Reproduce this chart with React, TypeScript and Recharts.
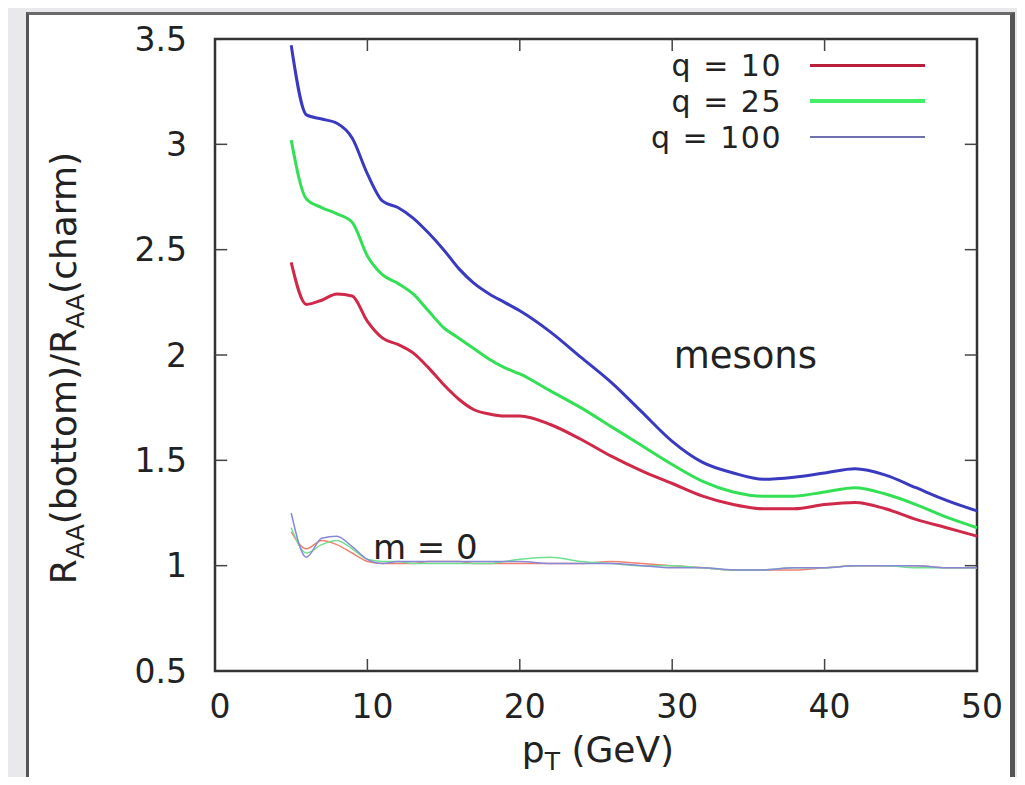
import React from 'react';
import {
  LineChart, Line, XAxis, YAxis, ReferenceArea, ReferenceLine, ReferenceDot, Legend,
} from 'recharts';

// pT grid (GeV) the curves were read on
const pT = [5, 6, 7, 8, 9, 10, 11, 12, 13, 14, 15, 16, 17, 18, 19, 20, 22, 24, 26, 28, 30, 32, 34, 36, 38, 40, 42, 44, 46, 48, 50];

// mesons, massive quarks
const q10 = [2.44, 2.24, 2.26, 2.29, 2.28, 2.16, 2.08, 2.05, 2.01, 1.94, 1.86, 1.79, 1.74, 1.72, 1.71, 1.71, 1.67, 1.60, 1.52, 1.45, 1.39, 1.33, 1.29, 1.27, 1.27, 1.29, 1.30, 1.27, 1.22, 1.18, 1.14];
const q25 = [3.02, 2.74, 2.70, 2.67, 2.63, 2.47, 2.38, 2.34, 2.29, 2.21, 2.13, 2.08, 2.03, 1.98, 1.94, 1.91, 1.83, 1.75, 1.66, 1.57, 1.48, 1.40, 1.35, 1.33, 1.33, 1.35, 1.37, 1.34, 1.29, 1.23, 1.18];
const q100 = [3.47, 3.14, 3.12, 3.10, 3.03, 2.86, 2.73, 2.70, 2.65, 2.58, 2.50, 2.41, 2.34, 2.29, 2.25, 2.21, 2.11, 1.99, 1.87, 1.73, 1.59, 1.49, 1.44, 1.41, 1.42, 1.44, 1.46, 1.43, 1.37, 1.31, 1.26];

// m = 0 curves
const m0q10 = [1.16, 1.08, 1.12, 1.10, 1.06, 1.02, 1.01, 1.01, 1.01, 1.02, 1.02, 1.02, 1.01, 1.01, 1.01, 1.01, 1.01, 1.01, 1.02, 1.01, 1.00, 0.99, 0.98, 0.98, 0.98, 0.99, 1.00, 1.00, 1.00, 0.99, 0.99];
const m0q25 = [1.18, 1.06, 1.10, 1.12, 1.08, 1.03, 1.02, 1.02, 1.01, 1.01, 1.01, 1.01, 1.01, 1.01, 1.02, 1.03, 1.04, 1.02, 1.01, 1.00, 1.00, 0.99, 0.98, 0.98, 0.99, 0.99, 1.00, 1.00, 0.99, 0.99, 0.99];
const m0q100 = [1.25, 1.04, 1.13, 1.14, 1.09, 1.03, 1.01, 1.02, 1.02, 1.02, 1.02, 1.02, 1.02, 1.02, 1.02, 1.02, 1.01, 1.01, 1.01, 1.00, 0.99, 0.99, 0.98, 0.98, 0.99, 0.99, 1.00, 1.00, 1.00, 0.99, 0.99];

const xTicks = [0, 10, 20, 30, 40, 50];
const yTicks = [0.5, 1, 1.5, 2, 2.5, 3, 3.5];
const legendLabels = ['q = 10', 'q = 25', 'q = 100'];

const data = pT.map((x, i) => ({
  pT: x, q10: q10[i], q25: q25[i], q100: q100[i],
  m0a: m0q10[i], m0b: m0q25[i], m0c: m0q100[i],
}));

const FONT = '"DejaVu Sans", "Liberation Sans", Arial, sans-serif';
const INK = '#222';
const legendColors = ['#b8203c', '#44ee66', '#7070b0'];
const legendWidths = [3, 4, 2];

const renderLegend = () => (
  <div style={{ fontFamily: FONT, fontSize: 30, color: INK, letterSpacing: 1.5 }}>
    {legendLabels.map((t, i) => (
      <div key={t} style={{ display: 'flex', alignItems: 'center', height: 36 }}>
        <div style={{ width: 182, textAlign: 'right', lineHeight: '35px' }}>{t}</div>
        <div style={{ marginLeft: 28, width: 115, height: legendWidths[i], background: legendColors[i] }} />
      </div>
    ))}
  </div>
);

export default function App() {
  return (
    <div style={{ position: 'relative', width: 1025, height: 785, margin: -8, background: '#e9e9eb', overflow: 'hidden' }}>
      <div style={{
        position: 'absolute', left: 26, top: 12, width: 981, height: 790, background: '#fff',
        borderLeft: '3px solid #555', borderTop: '3px solid #6a6a6a', borderRight: '5px solid #555',
      }} />
      <div style={{ position: 'absolute', left: 0, top: 0 }}>
        <LineChart width={1025} height={785} data={data} margin={{ top: 39, right: 48, bottom: 54, left: 135 }}>
          <XAxis
            type="number" dataKey="pT" domain={[0, 50]} ticks={xTicks} height={60}
            axisLine={false} tickLine={false} tickMargin={18}
            tick={{ fontSize: 33, fill: INK, fontFamily: FONT, dx: 5 }}
          />
          <YAxis
            type="number" domain={[0.5, 3.5]} ticks={yTicks} width={80}
            axisLine={false} tickLine={false} tickMargin={22}
            tick={{ fontSize: 33, fill: INK, fontFamily: FONT }}
          />
          <ReferenceArea x1={0} x2={50} y1={0.5} y2={3.5} fill="none" stroke="#333" strokeWidth={2.5} />
          {yTicks.slice(1, -1).map((v) => (
            <ReferenceLine key={`yl${v}`} segment={[{ x: 0, y: v }, { x: 0.8, y: v }]} stroke="#444" strokeWidth={1.5} />
          ))}
          {yTicks.slice(1, -1).map((v) => (
            <ReferenceLine key={`yr${v}`} segment={[{ x: 49.2, y: v }, { x: 50, y: v }]} stroke="#444" strokeWidth={1.5} />
          ))}
          {xTicks.slice(1, -1).map((v) => (
            <ReferenceLine key={`xb${v}`} segment={[{ x: v, y: 0.5 }, { x: v, y: 0.557 }]} stroke="#444" strokeWidth={1.5} />
          ))}
          {xTicks.slice(1, -1).map((v) => (
            <ReferenceLine key={`xt${v}`} segment={[{ x: v, y: 3.443 }, { x: v, y: 3.5 }]} stroke="#444" strokeWidth={1.5} />
          ))}
          <Line dataKey="m0a" type="monotone" stroke="#f08070" strokeWidth={1.5} dot={false} legendType="none" isAnimationActive={false} />
          <Line dataKey="m0b" type="monotone" stroke="#70e090" strokeWidth={1.5} dot={false} legendType="none" isAnimationActive={false} />
          <Line dataKey="m0c" type="monotone" stroke="#8888d8" strokeWidth={1.5} dot={false} legendType="none" isAnimationActive={false} />
          <Line dataKey="q10" name="q = 10" type="monotone" stroke="#d02848" strokeWidth={3} dot={false} isAnimationActive={false} />
          <Line dataKey="q25" name="q = 25" type="monotone" stroke="#33e055" strokeWidth={3} dot={false} isAnimationActive={false} />
          <Line dataKey="q100" name="q = 100" type="monotone" stroke="#3a3ac0" strokeWidth={3} dot={false} isAnimationActive={false} />
          <ReferenceDot x={34.8} y={2.0} r={0} fill="none" stroke="none"
            label={{ value: 'mesons', position: 'center', fontSize: 37, fill: INK, fontFamily: FONT }} />
          <ReferenceDot x={13.8} y={1.09} r={0} fill="none" stroke="none"
            label={{ value: 'm = 0', position: 'center', fontSize: 34, fill: INK, fontFamily: FONT }} />
          <Legend
            layout="horizontal" verticalAlign="middle" align="center" content={renderLegend}
            wrapperStyle={{ position: 'absolute', top: 47, left: 600, width: 340 }}
          />
          <text x={598} y={762} textAnchor="middle" fontSize={36} fill={INK} fontFamily={FONT}>
            p<tspan fontSize={25} dy={8}>T</tspan><tspan dy={-8}> (GeV)</tspan>
          </text>
          <text transform="translate(76,368) rotate(-90)" textAnchor="middle" fontSize={36} fill={INK} fontFamily={FONT}>
            R<tspan fontSize={25} dy={8}>AA</tspan><tspan dy={-8}>(bottom)/R</tspan>
            <tspan fontSize={25} dy={8}>AA</tspan><tspan dy={-8}>(charm)</tspan>
          </text>
        </LineChart>
      </div>
    </div>
  );
}
